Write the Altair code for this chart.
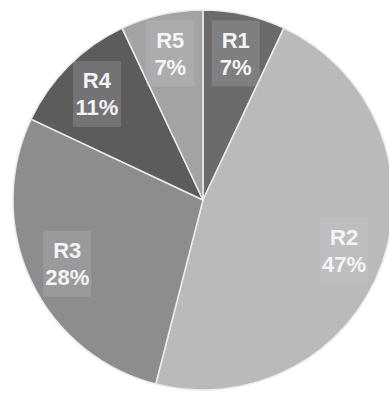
import altair as alt
import pandas as pd

regions = ["R1", "R2", "R3", "R4", "R5"]
shares = [7, 47, 28, 11, 7]
colors = ["#6b6b6b", "#bababa", "#8d8d8d", "#5c5c5c", "#a3a3a3"]

df = pd.DataFrame({"region": regions, "share": shares, "idx": list(range(len(regions)))})

CX, CY, R, LR = 203, 200, 190, 150
W, H = 389, 394

xs = alt.Scale(domain=[0, W], nice=False, zero=False)
ys = alt.Scale(domain=[H, 0], nice=False, zero=False)

base = alt.Chart(df)

pie = base.mark_arc(radius=R, stroke="#ececec", strokeWidth=1.5).encode(
    theta=alt.Theta("share:Q", stack=True),
    color=alt.Color("region:N", scale=alt.Scale(domain=regions, range=colors), legend=None),
    order=alt.Order("idx:Q"),
    x=alt.value(CX),
    y=alt.value(CY),
)

lab = base.transform_window(
    cum="sum(share)", sort=[alt.SortField("idx")], frame=[None, 0]
).transform_joinaggregate(total="sum(share)").transform_calculate(
    mid="(datum.cum - datum.share/2)/datum.total*2*PI",
).transform_calculate(
    lx=f"{CX}+{LR}*sin(datum.mid)",
    ly=f"{CY}-{LR}*cos(datum.mid)",
    label="datum.region + '\\n' + datum.share + '%'",
).transform_calculate(
    bx1="datum.lx-24", bx2="datum.lx+24", by1="datum.ly-33", by2="datum.ly+33"
)

boxes = lab.mark_rect(color="#d4d4e2", opacity=0.2).encode(
    x=alt.X("bx1:Q", scale=xs, axis=None),
    x2="bx2:Q",
    y=alt.Y("by1:Q", scale=ys, axis=None),
    y2="by2:Q",
)

texts = lab.mark_text(
    lineBreak="\n", font="Liberation Sans", fontWeight="bold", fontSize=22,
    color="#f4f4f4", lineHeight=27, baseline="middle", align="center", dy=-13,
).encode(
    x=alt.X("lx:Q", scale=xs, axis=None),
    y=alt.Y("ly:Q", scale=ys, axis=None),
    text="label:N",
)

chart = alt.layer(pie, boxes, texts).properties(
    width=W, height=H, padding=0, autosize=alt.AutoSizeParams(type="none"),
    background="white",
).configure_view(stroke=None)

chart.save("out.html", embed_options={"renderer": "svg", "actions": False})
